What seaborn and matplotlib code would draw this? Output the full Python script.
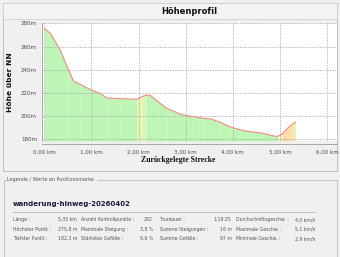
import matplotlib
matplotlib.use("Agg")
import matplotlib.pyplot as plt
from matplotlib.patches import Rectangle
from matplotlib.lines import Line2D
from matplotlib.ticker import AutoMinorLocator
import numpy as np
import pandas as pd
import seaborn as sns

# ---------------- data ----------------
dist_km = [0.00, 0.13, 0.34, 0.50, 0.62, 0.76, 0.97, 1.19, 1.33, 1.61, 1.97,
           2.08, 2.16, 2.25, 2.39, 2.60, 2.89, 3.02, 3.16, 3.37, 3.55, 3.73,
           3.94, 4.15, 4.36, 4.65, 4.87, 4.95, 5.05, 5.14, 5.28, 5.33]
elev_m = [275.8, 271.4, 256.7, 241.0, 230.2, 227.3, 222.9, 219.2, 215.5, 214.9, 214.5,
          216.8, 218.0, 217.8, 213.0, 206.5, 201.5, 200.3, 199.5, 198.0, 197.2, 194.5,
          190.6, 188.0, 186.3, 184.9, 182.6, 182.3, 184.5, 188.5, 193.5, 194.5]

x_ticks = [0, 1, 2, 3, 4, 5, 6]
x_tick_labels = ["0,00 km", "1,00 km", "2,00 km", "3,00 km", "4,00 km", "5,00 km", "6,00 km"]
y_ticks = [180, 200, 220, 240, 260, 280]
y_tick_labels = ["180m", "200m", "220m", "240m", "260m", "280m"]

chart_title = "Höhenprofil"
x_label = "Zurückgelegte Strecke"
y_label = "Höhe über NN"
legend_group = "Legende / Werte an Positionsmarke"
track_name = "wanderung-hinweg-20260402"

col1_labels = ["Länge :", "Höchster Punkt :", "Tiefster Punkt :"]
col1_values = ["5,33 km", "275,8 m", "182,3 m"]
col2_labels = ["Anzahl Kontrollpunkte :", "Maximale Steigung :", "Stärkstes Gefälle :"]
col2_values = ["282", "3,8 %", "9,6 %"]
col3_labels = ["Tourdauer :", "Summe Steigungen :", "Summe Gefälle :"]
col3_values = ["1:19:25", "16 m", "97 m"]
col4_labels = ["Durchschnittsgeschw. :", "Maximale Geschw. :", "Minimale Geschw. :"]
col4_values = ["4,0 km/h", "5,1 km/h", "2,9 km/h"]

df = pd.DataFrame({"km": dist_km, "m": elev_m})

# ---------------- figure ----------------
W, H = 340, 257
sns.set_style("white")
plt.rcParams["font.family"] = ["DejaVu Sans"]
fig = plt.figure(figsize=(W / 100, H / 100), dpi=100, facecolor="#f0f0f0")


def fx(x):
    return x / W


def fy(y):
    return 1 - y / H


# chart panel frame
fig.patches.append(Rectangle((fx(3), fy(171)), fx(334), 168 / H, transform=fig.transFigure,
                             facecolor="#f0f0f0", edgecolor="#c4c4c4", lw=0.8, zorder=-2))
fig.patches.append(Rectangle((fx(3), fy(19)), fx(334), 16 / H, transform=fig.transFigure,
                             facecolor="#f3f3f3", edgecolor="#d0d0d0", lw=0.6, zorder=-1))
fig.text(fx(189), fy(11.5), chart_title, ha="center", va="center", fontsize=6,
         fontweight="bold", color="#111111")

# plot area
left, right, top, bottom = 42, 337, 23, 141
ax = fig.add_axes([fx(left), fy(bottom), (right - left) / W, (bottom - top) / H])
ax.set_zorder(5)
ax.set_facecolor("white")

xs = np.array(dist_km)
ys = np.array(elev_m)
y0 = 178.3
slope = np.diff(ys) / np.diff(xs) / 1000 * 100  # percent
green = np.array([0.74, 0.96, 0.71])
yellow = np.array([0.97, 0.95, 0.69])
peach = np.array([0.99, 0.85, 0.66])
for i in range(len(xs) - 1):
    s = slope[i]
    if s <= 0.5:
        c = green
    elif s < 2.5:
        t = (s - 0.5) / 2.0
        c = green * (1 - t) + yellow * t
    else:
        t = min((s - 2.5) / 1.5, 1)
        c = yellow * (1 - t) + peach * t
    ax.fill_between(xs[i:i + 2], [y0, y0], ys[i:i + 2], color=c, lw=0, zorder=1)

sns.lineplot(data=df, x="km", y="m", ax=ax, color="#ee8a7c", lw=0.8, zorder=3)

ax.set_xlim(-0.049, 6.21)
ax.set_ylim(y0, 280.4)
ax.set_xticks(x_ticks)
ax.set_xticklabels(x_tick_labels)
ax.set_yticks(y_ticks)
ax.set_yticklabels(y_tick_labels)
ax.xaxis.set_minor_locator(AutoMinorLocator(5))
ax.yaxis.set_minor_locator(AutoMinorLocator(4))
ax.grid(True, which="major", color="#a8a8a8", ls=(0, (1.5, 1.5)), lw=0.6, zorder=2)
ax.set_axisbelow(False)
for sp in ("top", "right"):
    ax.spines[sp].set_visible(False)
ax.spines["bottom"].set_position(("outward", 2.2))
ax.spines["bottom"].set_color("#9a9a9a")
ax.spines["left"].set_color("#9a9a9a")
ax.spines["bottom"].set_linewidth(0.6)
ax.spines["left"].set_linewidth(0.6)
ax.tick_params(axis="x", which="major", direction="in", length=3, width=0.5, color="#777777",
               labelsize=4, labelcolor="#4a4a4a", pad=4)
ax.tick_params(axis="x", which="minor", direction="in", length=1.8, width=0.4, color="#777777")
ax.tick_params(axis="y", which="major", direction="out", length=2.5, width=0.5, color="#777777",
               labelsize=4, labelcolor="#4a4a4a", pad=1)
ax.tick_params(axis="y", which="minor", direction="out", length=1.5, width=0.4, color="#777777")
ax.set_xlabel("")
ax.set_ylabel("")

fig.text(fx(178), fy(159.5), x_label, ha="center", va="center", fontsize=5.6,
         fontweight="bold", family=["Liberation Serif"], color="#111111")
fig.text(fx(10), fy(82), y_label, ha="center", va="center", rotation=90, fontsize=5.4,
         fontweight="bold", color="#111111")

# legend group box
gx0, gy0 = 4, 180
fig.lines.append(Line2D([fx(gx0), fx(gx0)], [fy(gy0), fy(258)], transform=fig.transFigure,
                        color="#c8c8c8", lw=0.8))
fig.lines.append(Line2D([fx(gx0), fx(6)], [fy(gy0), fy(gy0)], transform=fig.transFigure,
                        color="#c8c8c8", lw=0.8))
fig.lines.append(Line2D([fx(97), fx(337)], [fy(gy0), fy(gy0)], transform=fig.transFigure,
                        color="#c8c8c8", lw=0.8))
fig.lines.append(Line2D([fx(337), fx(337)], [fy(gy0), fy(258)], transform=fig.transFigure,
                        color="#c8c8c8", lw=0.8))
fig.text(fx(6.5), fy(gy0), legend_group, ha="left", va="center", fontsize=3.5, color="#555555")

fig.text(fx(13), fy(204), track_name, ha="left", va="center", fontsize=5, fontweight="bold",
         color="#1a1a3a")
fig.lines.append(Line2D([fx(13), fx(315)], [fy(211.5), fy(211.5)], transform=fig.transFigure,
                        color="#c0c0c0", lw=0.7))

row_y = [219.5, 229.3, 238.7]
cols = [(13, 77, col1_labels, col1_values),
        (81, 153, col2_labels, col2_values),
        (159.5, 231.5, col3_labels, col3_values),
        (236, 315, col4_labels, col4_values)]
for lx, rx, labels, values in cols:
    for yy, lab, val in zip(row_y, labels, values):
        fig.text(fx(lx), fy(yy), lab, ha="left", va="center", fontsize=3.3, color="#555555")
        fig.text(fx(rx), fy(yy), val, ha="right", va="center", fontsize=3.3, color="#555555")

fig.savefig("out.png", dpi=100, facecolor=fig.get_facecolor())
